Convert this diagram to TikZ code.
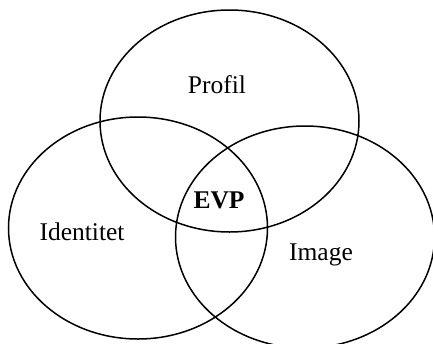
\documentclass[tikz,border=0pt]{standalone}
\usepackage{fontspec}
\setmainfont{Liberation Serif}
\usetikzlibrary{shapes.geometric}
\begin{document}
\begin{tikzpicture}[x=1pt, y=-1pt,
    set/.style={ellipse, draw, line width=1.5pt, minimum width=259pt, minimum height=222pt, inner sep=0pt},
    lbl/.style={font=\fontsize{25.5}{30}\selectfont}]

    \useasboundingbox (0,0) rectangle (433,343);

    \node[set] (profil) at (229.5,121) {};
    \node[set] (identitet) at (138,228) {};
    \node[set] (image) at (305,237) {};

    \node[lbl] (profiltext) at (217,85) {Profil};
    \node[lbl] (identitettext) at (82,232) {Identitet};
    \node[lbl] (imagetext) at (321,255) {Image};
    \node[lbl, font=\fontsize{25.5}{30}\selectfont\bfseries] (evp) at (219,200) {EVP};

\end{tikzpicture}
\end{document}
